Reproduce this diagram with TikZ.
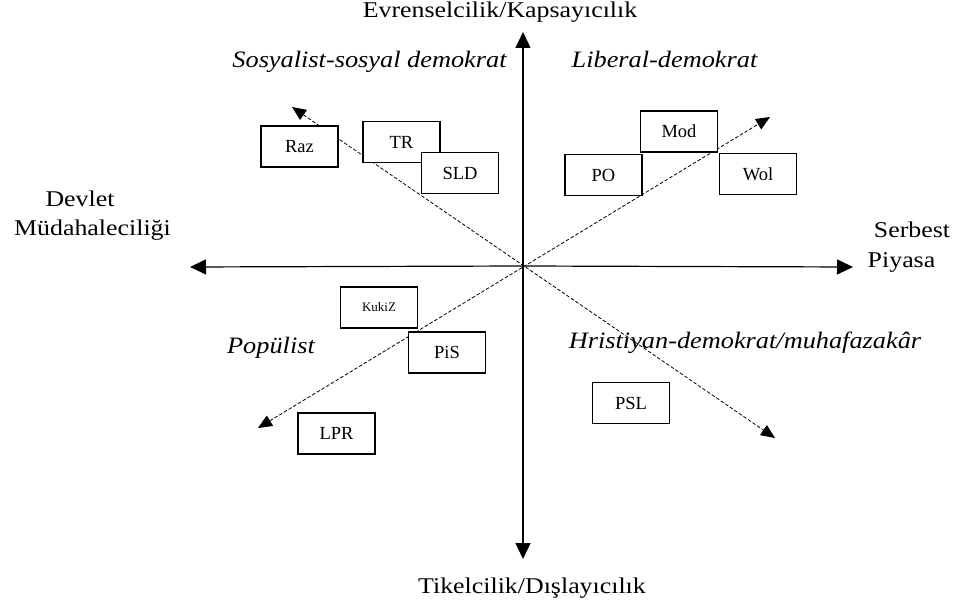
\documentclass[tikz,border=0pt]{standalone}
\usepackage{fontspec}
\setmainfont{Liberation Serif}
\usetikzlibrary{arrows.meta}
\newcommand{\wideA}[1]{\scalebox{1.15}[1]{#1}}
\newcommand{\wideQ}[1]{\scalebox{1.12}[1]{#1}}
\begin{document}
\begin{tikzpicture}[x=1pt,y=-1pt,
  axis/.style={line width=1.2pt,-{Triangle[length=16pt,width=15pt]}},
  diag/.style={line width=0.8pt,dash pattern=on 3.5pt off 2pt,{Triangle[length=14pt,width=12pt]}-{Triangle[length=14pt,width=12pt]}},
  party/.style={draw,line width=1.4pt,fill=white,minimum width=77pt,minimum height=41pt,inner sep=0pt,font=\fontsize{18.5}{20}\selectfont},
  axlab/.style={font=\fontsize{22.5}{26}\selectfont,inner sep=0pt,anchor=base},
  quad/.style={font=\fontsize{23.5}{28}\selectfont\itshape,inner sep=0pt,anchor=base}]
\useasboundingbox (0,0) rectangle (957,601);
\coordinate (C) at (523,266);
\coordinate (T) at (523,32);
\coordinate (B) at (523,559);
\coordinate (L) at (190,267);
\coordinate (R) at (853,267);
\coordinate (UL) at (292,107);
\coordinate (LR) at (775,438);
\coordinate (UR) at (770,117);
\coordinate (LL) at (258,428);
\draw[axis] (C) -- (T);
\draw[axis] (C) -- (B);
\draw[axis] (C) -- (L);
\draw[axis] (C) -- (R);
\draw[diag] (UL) -- (LR);
\draw[diag] (LL) -- (UR);
\node[party] (raz) at (299.5,146.5) {Raz};
\node[party] (tr) at (401.5,142) {TR};
\node[party] (sld) at (460,173) {SLD};
\node[party] (mod) at (679,131.5) {Mod};
\node[party] (po) at (603.5,175) {PO};
\node[party] (wol) at (758,174) {Wol};
\node[party,font=\fontsize{13}{15}\selectfont] (kukiz) at (379,307.5) {KukiZ};
\node[party] (pis) at (447,352.5) {PiS};
\node[party] (lpr) at (336.5,433.5) {LPR};
\node[party] (psl) at (631,403) {PSL};
\node[axlab] (top) at (500,18) {\wideA{Evrenselcilik/Kapsayıcılık}};
\node[axlab] (bot) at (532,593) {\wideA{Tikelcilik/Dışlayıcılık}};
\node[axlab] (left1) at (80,207) {\wideA{Devlet}};
\node[axlab] (left2) at (92.5,236) {\wideA{Müdahaleciliği}};
\node[axlab] (right1) at (912,238) {\wideA{Serbest}};
\node[axlab] (right2) at (901.5,268) {\wideA{Piyasa}};
\node[quad] (q1) at (369.5,68) {\wideQ{Sosyalist-sosyal demokrat}};
\node[quad] (q2) at (664.5,68) {\wideQ{Liberal-demokrat}};
\node[quad] (q3) at (271,353) {\wideQ{Popülist}};
\node[quad] (q4) at (745,348) {\wideQ{Hristiyan-demokrat/muhafazakâr}};
\end{tikzpicture}
\end{document}
